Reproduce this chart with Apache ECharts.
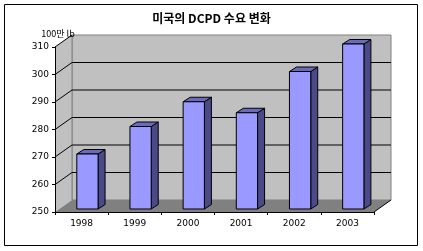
<!DOCTYPE html>
<html><head><meta charset="utf-8">
<script src="https://cdn.jsdelivr.net/npm/echarts@6/dist/echarts.min.js"></script>
<style>html,body{margin:0;padding:0;background:#fff}#c{width:423px;height:251px}</style>
</head><body><div id="c"></div>
<script>
const categories = ['1998','1999','2000','2001','2002','2003'];
const demand = [270, 280, 289, 285, 300, 310];
const yTicks = [250, 260, 270, 280, 290, 300, 310];
const titleText = '미국의 DCPD 수요 변화';
const unitText = '100만 lb';

const Y_MIN = yTicks[0], Y_MAX = yTicks[yTicks.length-1];
const DX = 17, DY = -12;      // wall depth
const SY = -3;                // bar front plane shift
const BDX = 7, BDY = -4.5;    // bar depth

const chart = echarts.init(document.getElementById('c'), null, {renderer:'canvas'});

function renderWalls(params, api){
  const cs = params.coordSys;
  const x0 = cs.x, x1 = cs.x + cs.width;
  const yb = api.coord([0, Y_MIN])[1];
  const yt = api.coord([0, Y_MAX])[1];
  const ch = [];
  ch.push({type:'polygon', shape:{points:[[x0+DX,yt+DY],[x1+DX,yt+DY],[x1+DX,yb+DY],[x0+DX,yb+DY]]},
    style:{fill:'#c0c0c0', stroke:'#808080', lineWidth:1}});
  ch.push({type:'polygon', shape:{points:[[x0,yt],[x0+DX,yt+DY],[x0+DX,yb+DY],[x0,yb]]},
    style:{fill:'#c0c0c0', stroke:null}});
  ch.push({type:'line', shape:{x1:x0+DX,y1:yt+DY,x2:x0+DX,y2:yb+DY}, style:{stroke:'#808080', lineWidth:1}});
  ch.push({type:'polygon', shape:{points:[[x0,yb],[x1,yb],[x1+DX,yb+DY],[x0+DX,yb+DY]]},
    style:{fill:'#808080', stroke:null}});
  ch.push({type:'line', shape:{x1:x1,y1:yb,x2:x1+DX,y2:yb+DY}, style:{stroke:'#000', lineWidth:1}});
  yTicks.forEach(v => {
    if (v === Y_MIN) return;
    const y = api.coord([0, v])[1];
    ch.push({type:'line', shape:{x1:x0,y1:y,x2:x0+DX,y2:y+DY}, style:{stroke:'#000', lineWidth:1}});
    if (v !== Y_MAX)
      ch.push({type:'line', shape:{x1:x0+DX,y1:y+DY,x2:x1+DX,y2:y+DY}, style:{stroke:'#000', lineWidth:1}});
  });
  return {type:'group', children:ch};
}

function renderBar(params, api){
  const i = api.value(0), v = api.value(1);
  const c = api.coord([i, v]);
  const yb = api.coord([i, Y_MIN])[1] + SY;
  const yt = c[1] + SY;
  const band = api.size([1, 0])[0];
  const xa = c[0] - band*0.09;
  const xb = xa + band*0.4;
  const st = {stroke:'#000', lineWidth:1, lineJoin:'miter'};
  return {type:'group', children:[
    {type:'polygon', shape:{points:[[xb,yb],[xb,yt],[xb+BDX,yt+BDY],[xb+BDX,yb+BDY]]},
      style:Object.assign({fill:'#4a4a88'}, st)},
    {type:'polygon', shape:{points:[[xa,yt],[xb,yt],[xb+BDX,yt+BDY],[xa+BDX,yt+BDY]]},
      style:Object.assign({fill:'#6b6bbd'}, st)},
    {type:'rect', shape:{x:xa, y:yt, width:xb-xa, height:yb-yt},
      style:Object.assign({fill:'#9999ff'}, st)}
  ]};
}

chart.setOption({
  animation:false,
  backgroundColor:'#fff',
  title:{text:titleText, left:'center', top:7,
    textStyle:{fontFamily:'Noto Sans CJK KR', fontSize:12, fontWeight:'bold', color:'#000'}},
  graphic:[{type:'rect', shape:{x:4.5,y:4.5,width:413,height:241}, style:{fill:null, stroke:'#000', lineWidth:1}, z:100}],
  grid:{left:55, right:49, top:47, bottom:39},
  xAxis:{type:'category', data:categories, boundaryGap:true,
    axisLine:{show:true, lineStyle:{color:'#000', width:1}},
    axisTick:{show:true, length:3, lineStyle:{color:'#000'}},
    axisLabel:{color:'#000', fontSize:9, fontFamily:'DejaVu Sans', margin:7},
    z:10},
  yAxis:{type:'value', min:Y_MIN, max:Y_MAX, interval:10,
    name:unitText, nameLocation:'end', nameGap:9,
    nameTextStyle:{color:'#000', fontSize:9, fontFamily:'Noto Sans CJK KR', align:'center', padding:[0,0,0,6]},
    axisLine:{show:true, lineStyle:{color:'#000', width:1}},
    axisTick:{show:true, length:3, lineStyle:{color:'#000'}},
    axisLabel:{color:'#000', fontSize:9, fontFamily:'DejaVu Sans', margin:6},
    splitLine:{show:false}, z:10},
  series:[
    {type:'custom', renderItem:renderWalls, data:[[0, Y_MIN]], z:1, silent:true},
    {type:'custom', renderItem:renderBar, data:demand.map((v,i)=>[i,v]), z:2}
  ]
});
</script></body></html>
